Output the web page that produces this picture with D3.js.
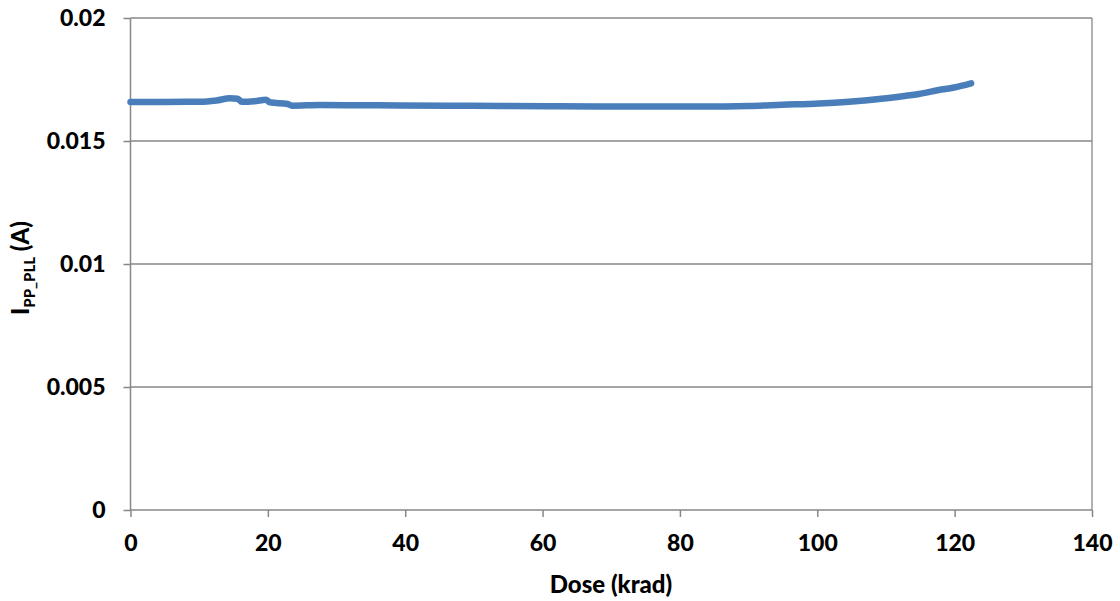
<!DOCTYPE html>
<html><head><meta charset="utf-8">
<script src="https://cdn.jsdelivr.net/npm/d3@7"></script>
<style>
html,body{margin:0;padding:0;background:#fff;}
text{font-family:Lato,"Open Sans",sans-serif;font-weight:900;fill:#000;}
</style></head>
<body>
<svg id="c" width="1120" height="601"></svg>
<script>
const doseValues = [0, 5, 10.1, 12.5, 14.5, 15.6, 16.2, 18, 19.3, 19.7, 20.3, 22.9, 23.6, 27.6, 33, 39.2, 46, 53.7, 61, 68.3, 75.6, 82.8, 90.1, 94.9, 100.3, 104.6, 109.0, 111.9, 114.8, 117.7, 119.9, 122.4];
const currentValues = [0.016585, 0.016590, 0.016598, 0.016650, 0.016736, 0.016720, 0.016598, 0.016620, 0.016667, 0.016680, 0.016573, 0.016504, 0.016435, 0.016463, 0.016455, 0.016443, 0.016433, 0.016423, 0.016410, 0.016402, 0.016402, 0.016402, 0.016423, 0.016472, 0.016524, 0.016598, 0.016707, 0.016801, 0.016911, 0.017073, 0.017175, 0.017346];
const xTicks = [0, 20, 40, 60, 80, 100, 120, 140];
const yTicks = [0, 0.005, 0.01, 0.015, 0.02];
const yTickLabels = ["0", "0.005", "0.01", "0.015", "0.02"];

const svg = d3.select("#c");
const L = 130.5, R = 1092, T = 18, B = 510;
const x = d3.scaleLinear().domain([0, 140]).range([L, R]);
const y = d3.scaleLinear().domain([0, 0.02]).range([B, T]);
const grid = "#878787";
const FONT = "Lato, 'Open Sans', sans-serif";

// gridlines
svg.append("g").selectAll("line").data(yTicks.slice(1)).join("line")
  .attr("x1", L).attr("x2", R).attr("y1", d => y(d)).attr("y2", d => y(d))
  .attr("stroke", grid).attr("stroke-width", 1.3);
// right border
svg.append("line").attr("x1", R).attr("x2", R).attr("y1", T).attr("y2", B)
  .attr("stroke", grid).attr("stroke-width", 1.3);

// axes
const yAxis = d3.axisLeft(y).tickValues(yTicks).tickFormat((d, i) => yTickLabels[i]).tickSize(7).tickPadding(18);
const gy = svg.append("g").attr("transform", `translate(${L},0)`).call(yAxis);
const xAxis = d3.axisBottom(x).tickValues(xTicks).tickFormat(d3.format("d")).tickSize(7).tickPadding(18);
const gx = svg.append("g").attr("transform", `translate(0,${B})`).call(xAxis);
[gx, gy].forEach(g => {
  g.select(".domain").attr("stroke", grid).attr("stroke-width", 1.5);
  g.selectAll(".tick line").attr("stroke", grid).attr("stroke-width", 1.5);
  g.selectAll(".tick text").attr("font-family", FONT).attr("font-weight", 900).attr("font-size", 23).attr("fill", "#000");
});
gx.select(".domain").attr("d", `M${L},0H${R}`);
gy.select(".domain").attr("d", `M0,${B}V${T}`);

// data line
const pts = doseValues.map((d, i) => [d, currentValues[i]]);
svg.append("path").datum(pts)
  .attr("fill", "none").attr("stroke", "#4a7ebb").attr("stroke-width", 6.5)
  .attr("stroke-linecap", "round").attr("stroke-linejoin", "round")
  .attr("d", d3.line().x(d => x(d[0])).y(d => y(d[1])).curve(d3.curveMonotoneX));

// axis titles
svg.append("text").attr("x", 611).attr("y", 593).attr("text-anchor", "middle")
  .attr("font-size", 24).text("Dose (krad)");
const yt = svg.append("text").attr("transform", "translate(29,268) rotate(-90)").attr("text-anchor", "middle").attr("font-size", 24);
yt.append("tspan").text("I");
yt.append("tspan").attr("font-size", 15).attr("dy", 6).text("PP_PLL");
yt.append("tspan").attr("dy", -6).text(" (A)");
</script>
</body></html>
